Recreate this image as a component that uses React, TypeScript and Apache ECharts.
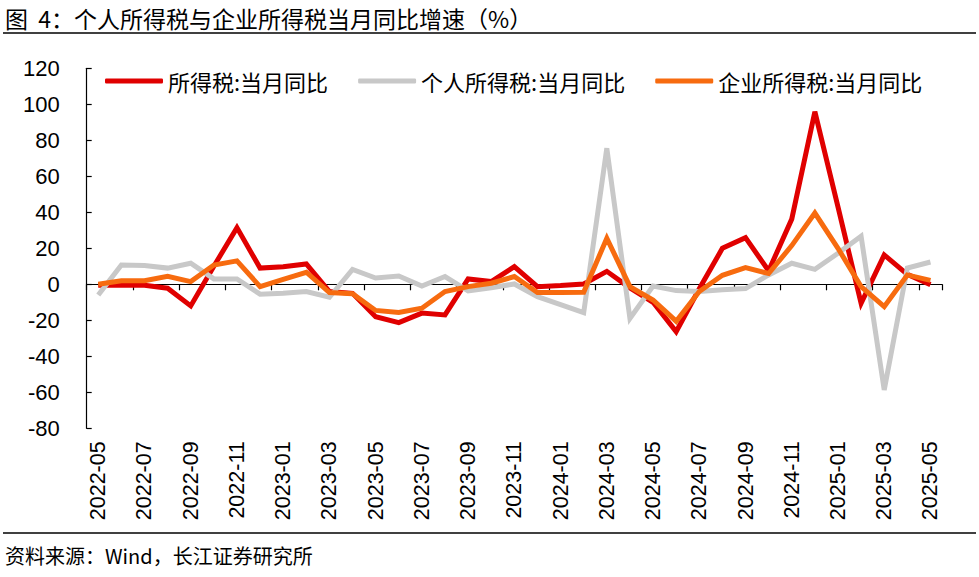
import React, { useEffect, useRef } from "react";
import * as echarts from "echarts";

const categories = [
  "2022-05","2022-06","2022-07","2022-08","2022-09","2022-10","2022-11","2022-12",
  "2023-01","2023-02","2023-03","2023-04","2023-05","2023-06","2023-07","2023-08",
  "2023-09","2023-10","2023-11","2023-12","2024-01","2024-02","2024-03","2024-04",
  "2024-05","2024-06","2024-07","2024-08","2024-09","2024-10","2024-11","2024-12",
  "2025-01","2025-02","2025-03","2025-04","2025-05",
];

const incomeTax = [
  -0.5, -0.5, -0.5, -2.2, -12, 10, 31.5, 9,
  9.8, 11.3, -4, -5, -18, -21.3, -16, -17,
  3, 1.5, 9.8, -1.3, -0.7, 0.2, 7.2, -2,
  -10, -26.3, -2.5, 20, 25.9, 7.5, 36.2, 95.9,
  43, -10.6, 16.3, 5.5, -0.2,
];

const personalTax = [
  -6, 10.7, 10.5, 9, 11.7, 3, 3, -5.5,
  -5, -4, -7.2, 8.3, 3.5, 4.6, -1, 4.3,
  -3.7, -1.9, 0.2, -6.9, -11.3, -15.7, 75.6, -19,
  -1, -3.5, -4, -3, -2.4, 5.2, 11.7, 8.3,
  17.2, 26.7, -58.7, 9, 12.4,
];

const corporateTax = [
  0, 2, 2, 4.4, 1.5, 10.7, 13, -1.3,
  2.8, 6.7, -4.6, -5.2, -14.5, -15.7, -13.3, -4,
  -1.3, 0.6, 4.3, -4.6, -4.6, -4.4, 25.6, -1.3,
  -8.7, -20.5, -4, 5, 9.3, 6, 21.5, 39.6,
  20, -1.3, -12.4, 5.2, 2.2,
];

const seriesNames = ["所得税:当月同比", "个人所得税:当月同比", "企业所得税:当月同比"];
const seriesColors = ["#E00000", "#C8C8C8", "#F76B0F"];

const titleText = "图  4：个人所得税与企业所得税当月同比增速（%）";
const sourceText = "资料来源：Wind，长江证券研究所";

const FONT = "'Liberation Sans', Arial, 'Noto Sans CJK SC', sans-serif";
const CJK = "'Noto Sans CJK SC', 'Liberation Sans', sans-serif";

export default function App() {
  const ref = useRef<HTMLDivElement>(null);
  useEffect(() => {
    if (!ref.current) return;
    const chart = echarts.init(ref.current, undefined, { renderer: "svg" });
    const values = [incomeTax, personalTax, corporateTax];
    chart.setOption({
      animation: false,
      backgroundColor: "#ffffff",
      grid: { left: 86.7, right: 37, top: 68.3, bottom: 148.7, containLabel: false },
      legend: {
        left: 100,
        top: 65,
        icon: "roundRect",
        itemWidth: 58,
        itemHeight: 5,
        itemGap: 30,
        textStyle: { fontSize: 22, color: "#000", fontFamily: CJK },
        data: seriesNames,
      },
      xAxis: [
        {
          type: "category",
          data: categories,
          boundaryGap: true,
          position: "bottom",
          axisLine: { show: false, onZero: false },
          axisTick: { show: false },
          axisLabel: {
            interval: 1,
            rotate: 90,
            margin: 13,
            fontSize: 21.5,
            color: "#000",
            fontFamily: FONT,
          },
        },
        {
          type: "category",
          data: categories,
          boundaryGap: true,
          position: "top",
          axisLine: { show: true, onZero: true, lineStyle: { color: "#000", width: 1.2 } },
          axisTick: { show: true, inside: true, interval: 1, length: 6, lineStyle: { color: "#000", width: 1.2 } },
          axisLabel: { show: false },
        },
      ],
      yAxis: {
        type: "value",
        min: -80,
        max: 120,
        interval: 20,
        axisLine: { show: true, lineStyle: { color: "#000", width: 1.2 } },
        axisTick: { show: true, inside: true, length: 5, lineStyle: { color: "#000", width: 1.2 } },
        splitLine: { show: false },
        axisLabel: { fontSize: 22, color: "#000", margin: 27, fontFamily: FONT },
      },
      series: seriesNames.map((name, i) => ({
        name,
        type: "line",
        xAxisIndex: 0,
        data: values[i],
        symbol: "none",
        color: seriesColors[i],
        lineStyle: { width: 5, color: seriesColors[i], join: "miter" },
      })),
      graphic: [
        {
          type: "text",
          left: 5,
          top: 6,
          style: { text: titleText, fontSize: 23, fill: "#000", fontFamily: CJK },
        },
        {
          type: "line",
          shape: { x1: 3, y1: 33, x2: 976, y2: 33 },
          style: { stroke: "#000", lineWidth: 1.3 },
        },
        {
          type: "line",
          shape: { x1: 3, y1: 533, x2: 976, y2: 533 },
          style: { stroke: "#000", lineWidth: 1.3 },
        },
        {
          type: "text",
          left: 5,
          top: 545,
          style: { text: sourceText, fontSize: 20, fill: "#000", fontFamily: CJK },
        },
      ],
    });
    return () => chart.dispose();
  }, []);
  return (
    <div
      ref={ref}
      style={{ position: "fixed", left: 0, top: 0, width: 979, height: 577, background: "#fff" }}
    />
  );
}
